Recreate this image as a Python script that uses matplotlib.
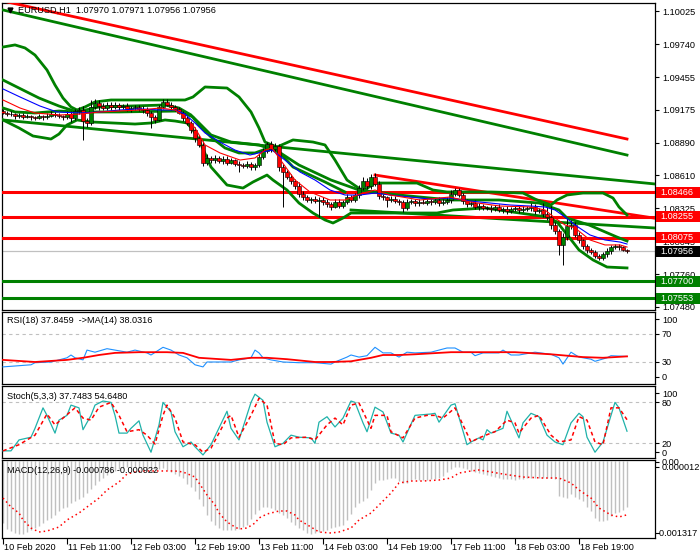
import matplotlib
matplotlib.use("Agg")
import matplotlib.pyplot as plt
import matplotlib.transforms as mtransforms
from matplotlib.patches import Rectangle
from matplotlib.lines import Line2D
import numpy as np

plt.rcParams['font.family'] = ['Liberation Sans', 'DejaVu Sans']
FS = 6.6

title_text = "EURUSD,H1  1.07970 1.07971 1.07956 1.07956"
rsi_title = "RSI(18) 37.8459  ->MA(14) 38.0316"
stoch_title = "Stoch(5,3,3) 37.7483 54.6480"
macd_title = "MACD(12,26,9) -0.000786 -0.000922"

first_open = 1.09160
closes = [
    1.09150, 1.09140, 1.09135, 1.09120, 1.09128, 1.09115, 1.09120, 1.09110, 1.09105, 1.09118,
    1.09110, 1.09125, 1.09140, 1.09130, 1.09120, 1.09110, 1.09135, 1.09100, 1.09160, 1.09175,
    1.09080, 1.09060, 1.09200, 1.09230, 1.09210, 1.09190, 1.09220, 1.09200, 1.09215, 1.09195,
    1.09205, 1.09180, 1.09190, 1.09200, 1.09185, 1.09170, 1.09150, 1.09110, 1.09090, 1.09200,
    1.09240, 1.09220, 1.09200, 1.09180, 1.09150, 1.09100, 1.09060, 1.09000, 1.08930, 1.08870,
    1.08720, 1.08760, 1.08740, 1.08760, 1.08730, 1.08750, 1.08720, 1.08740, 1.08710, 1.08700,
    1.08690, 1.08710, 1.08680, 1.08700, 1.08770, 1.08820, 1.08880, 1.08840, 1.08860, 1.08680,
    1.08640, 1.08600, 1.08560, 1.08520, 1.08450, 1.08420, 1.08400, 1.08410, 1.08390, 1.08400,
    1.08380, 1.08360, 1.08340, 1.08380, 1.08350, 1.08380, 1.08420, 1.08400, 1.08440, 1.08500,
    1.08560, 1.08520, 1.08600, 1.08540, 1.08430, 1.08420, 1.08400, 1.08410, 1.08390, 1.08380,
    1.08330, 1.08380, 1.08390, 1.08370, 1.08385, 1.08375, 1.08390, 1.08380, 1.08395, 1.08370,
    1.08385, 1.08400, 1.08450, 1.08480, 1.08440, 1.08390, 1.08360, 1.08370, 1.08340, 1.08350,
    1.08330, 1.08330, 1.08320, 1.08340, 1.08310, 1.08320, 1.08300, 1.08320, 1.08330, 1.08310,
    1.08320, 1.08330, 1.08340, 1.08300, 1.08310, 1.08280, 1.08250, 1.08180, 1.08130, 1.08010,
    1.08080, 1.08170, 1.08180, 1.08100, 1.08050, 1.08000, 1.07970, 1.07950, 1.07920, 1.07900,
    1.07930, 1.07960, 1.07990, 1.08000, 1.07990, 1.07970, 1.07956]
wick_hi_pts = [
    20, 15, 25, 10, 20, 15, 20, 10, 15, 20,
    10, 25, 20, 15, 15, 10, 25, 30, 20, 25,
    35, 20, 60, 40, 25, 20, 25, 20, 30, 15,
    20, 25, 15, 20, 15, 20, 25, 15, 20, 20,
    30, 25, 20, 15, 20, 15, 25, 20, 30, 25,
    40, 35, 20, 25, 20, 30, 25, 20, 15, 20,
    20, 25, 15, 20, 30, 25, 20, 30, 25, 20,
    30, 20, 25, 20, 30, 25, 20, 15, 20, 25,
    20, 25, 20, 30, 25, 20, 30, 25, 20, 30,
    40, 30, 20, 30, 25, 20, 15, 20, 25, 20,
    20, 25, 20, 15, 20, 25, 20, 15, 20, 25,
    20, 25, 30, 25, 20, 20, 15, 20, 25, 20,
    15, 20, 25, 15, 20, 15, 25, 20, 15, 20,
    25, 20, 30, 25, 20, 60, 60, 100, 25, 20,
    30, 70, 50, 25, 20, 15, 20, 15, 20, 15,
    20, 25, 20, 15, 20, 15, 10]
wick_lo_pts = [
    15, 20, 10, 25, 15, 20, 10, 20, 15, 10,
    20, 15, 10, 20, 15, 25, 15, 30, 15, 20,
    166, 30, 20, 15, 40, 20, 15, 25, 15, 20,
    15, 20, 25, 15, 20, 20, 25, 90, 30, 15,
    20, 15, 25, 20, 15, 25, 20, 25, 30, 20,
    30, 20, 25, 20, 15, 25, 20, 15, 20, 60,
    20, 15, 20, 25, 15, 20, 15, 25, 20, 30,
    300, 25, 20, 30, 25, 20, 15, 25, 20, 140,
    25, 20, 30, 15, 20, 25, 20, 15, 20, 25,
    20, 30, 25, 20, 25, 20, 60, 15, 20, 25,
    35, 20, 15, 25, 20, 15, 20, 25, 15, 20,
    15, 20, 25, 20, 15, 25, 20, 15, 20, 25,
    20, 15, 25, 20, 15, 20, 25, 15, 20, 20,
    15, 20, 25, 20, 15, 25, 20, 30, 25, 85,
    170, 30, 25, 20, 25, 20, 30, 20, 25, 20,
    15, 20, 25, 15, 20, 15, 10]

date_labels = ["10 Feb 2020", "11 Feb 11:00", "12 Feb 03:00", "12 Feb 19:00", "13 Feb 11:00",
               "14 Feb 03:00", "14 Feb 19:00", "17 Feb 11:00", "18 Feb 03:00", "18 Feb 19:00"]
date_label_bars = [0, 16, 32, 48, 64, 80, 96, 112, 128, 144]

price_ticks = [1.10025, 1.09740, 1.09455, 1.09175, 1.08890, 1.08610, 1.08325, 1.08045, 1.07760, 1.07480]
resist_levels = [1.08466, 1.08255, 1.08075]
support_levels = [1.07700, 1.07553]
last_price = 1.07956

# long lines (bar index, price)
long_red_bars = [0, 156]
long_red = [1.10111, 1.08923]
long_green_bars = [0, 156]
long_green = [1.10034, 1.08785]
chan_green_bars = [0, 163]
chan_green = [1.09087, 1.08536]
chan_green2_bars = [87, 163]
chan_green2 = [1.08312, 1.08157]
trend_red_bars = [93, 163]
trend_red = [1.08613, 1.08241]

# Bollinger-type envelopes
bb_up_bars = [0, 3, 5.5, 8, 11, 13, 15, 17, 18.5, 20.5, 23, 27, 37, 45.5, 47.5, 50.5, 56, 59, 62, 64, 65.5,
              68.5, 72.5, 77.5, 80.5, 83, 86, 90, 93, 103.5, 107.5, 111, 122, 130, 133.5, 137, 138.5,
              141, 145, 150, 152.5, 154, 156]
bb_up = [1.09715, 1.09733, 1.09707, 1.09646, 1.09517, 1.09388, 1.09276, 1.09199, 1.09173, 1.09199,
         1.09242, 1.09259, 1.09259, 1.09259, 1.09285, 1.09371, 1.09362, 1.09285, 1.09156, 1.09018,
         1.08897, 1.08854, 1.08915, 1.08897, 1.08872, 1.08742, 1.08570, 1.08475, 1.08544, 1.08544,
         1.08484, 1.08467, 1.08467, 1.08458, 1.08398, 1.08355, 1.08398, 1.08441, 1.08458, 1.08458,
         1.08415, 1.08338, 1.08269]
bb_mid_bars = [0, 4, 9, 14, 18.5, 29, 44, 47.5, 52, 57, 64, 69, 74, 82, 89, 99, 112, 124, 134, 139,
               141, 146.5, 153.5, 156]
bb_mid = [1.09431, 1.09362, 1.09276, 1.09207, 1.09156, 1.09156, 1.09164, 1.09113, 1.08958, 1.08897,
          1.08872, 1.08811, 1.08699, 1.08570, 1.08484, 1.08441, 1.08398, 1.08398, 1.08372, 1.08312,
          1.08243, 1.08183, 1.08079, 1.08045]
bb_lo_bars = [0, 4, 7.5, 12, 14, 16, 18.5, 22, 33, 37, 40.5, 43, 46, 47.5, 49, 52, 56, 60, 62.5, 66,
              67.5, 71, 74, 77.5, 80.5, 82.5, 85, 87, 92, 108.5, 112.5, 120.5, 136, 138.5, 141.5,
              144, 147.5, 151, 156]
bb_lo = [1.09087, 1.09018, 1.08949, 1.08923, 1.08966, 1.09044, 1.09087, 1.09070, 1.09052, 1.09061,
         1.09087, 1.09078, 1.09061, 1.09001, 1.08915, 1.08682, 1.08527, 1.08501, 1.08553, 1.08613,
         1.08570, 1.08484, 1.08372, 1.08286, 1.08226, 1.08200, 1.08243, 1.08286, 1.08286, 1.08286,
         1.08312, 1.08329, 1.08252, 1.08209, 1.08079, 1.07968, 1.07882, 1.07821, 1.07813]
bb2_up_bars = [0, 3, 8, 14, 18.5, 24, 40.5, 44, 47, 49, 52, 55.5, 59, 63, 65, 67, 69, 72.5, 80.5, 85.5]
bb2_up = [1.09190, 1.09156, 1.09147, 1.09164, 1.09156, 1.09199, 1.09216, 1.09190, 1.09130, 1.09044,
          1.08940, 1.08846, 1.08803, 1.08803, 1.08828, 1.08846, 1.08811, 1.08682, 1.08553, 1.08467]

# moving averages
ma_slow_bars = [0, 4.25, 9.25, 13.5, 19.25, 24.25, 29.25, 34.25, 39.25, 43, 45.5, 48, 50.5, 54.25, 58,
                61.75, 64.75, 67.25, 70.5, 74.25, 78, 81.75, 85.5, 89.25, 93, 96.75, 101.75, 106.75,
                111.75, 116.75, 121.75, 126.75, 131.75, 135.5, 138, 140.5, 143, 146.75, 150.5, 154.25, 156]
ma_slow = [1.09354, 1.09285, 1.09207, 1.09156, 1.09147, 1.09156, 1.09173, 1.09182, 1.09173, 1.09173,
           1.09138, 1.09061, 1.08975, 1.08897, 1.08828, 1.08785, 1.08811, 1.08828, 1.08742, 1.08639,
           1.08570, 1.08484, 1.08441, 1.08441, 1.08458, 1.08441, 1.08424, 1.08407, 1.08415, 1.08389,
           1.08372, 1.08355, 1.08346, 1.08338, 1.08312, 1.08252, 1.08183, 1.08097, 1.08054, 1.08036,
           1.08019]
ma_fast_bars = [0, 4.25, 8, 14.25, 19.25, 24.25, 34.25, 39.25, 43, 45.5, 48, 50.5, 54.25, 59.25, 63,
                65.5, 67.25, 69.75, 73, 76.75, 81.75, 85.5, 89.25, 93, 96.75, 104.25, 111.75, 116.75,
                124.25, 131.75, 135.5, 138, 140.5, 143, 146.75, 150.5, 154.25, 156]
ma_fast = [1.09259, 1.09190, 1.09147, 1.09130, 1.09138, 1.09156, 1.09173, 1.09190, 1.09173, 1.09113,
           1.09018, 1.08872, 1.08803, 1.08742, 1.08760, 1.08828, 1.08846, 1.08725, 1.08570, 1.08467,
           1.08398, 1.08398, 1.08450, 1.08484, 1.08441, 1.08398, 1.08424, 1.08381, 1.08346, 1.08338,
           1.08312, 1.08243, 1.08183, 1.08157, 1.08054, 1.08011, 1.08011, 1.07993]

# RSI
rsi_bars = [0, 7, 8, 12, 14, 16, 17, 18, 20, 21, 23, 26, 28, 31, 33, 36, 37, 40, 42, 44, 46, 48, 50, 51,
            53, 57, 59, 62, 63, 64, 65, 67, 70, 74, 78, 82, 83, 86, 87, 89, 91, 93, 95, 97, 99, 101,
            103, 107, 111, 113, 115, 117, 118, 120, 124, 125, 127, 129, 133, 137, 139, 140, 142, 144,
            147, 148, 151, 152, 156]
rsi_vals = [23, 26, 29, 30, 33, 36, 40, 36, 33, 47, 44, 49, 47, 44, 47, 43, 40, 51, 47, 40, 36, 26, 23,
            30, 30, 30, 33, 36, 47, 43, 36, 33, 30, 29, 29, 27, 30, 37, 40, 37, 39, 51, 43, 43, 37, 44,
            43, 44, 50, 50, 44, 44, 39, 43, 43, 47, 40, 40, 44, 41, 36, 27, 44, 37, 34, 31, 36, 39, 37.85]
rsi_ma_bars = [0, 8, 16, 20, 24, 28, 34, 41, 45, 49, 57, 62, 66, 71, 78, 82, 87, 92, 95, 99, 103, 112,
               120, 128, 137, 141, 145, 150, 153, 156]
rsi_ma = [33, 30, 33, 36, 40, 43, 44, 44, 43, 36, 33, 36, 36, 34, 30, 30, 31, 36, 40, 40, 41, 44, 44,
          44, 41, 39, 37, 36, 37, 38.03]

# Stochastic
st_bars = [0, 2, 4, 7, 8, 10, 11, 13, 14, 16, 17, 19, 20, 22, 23, 25, 27, 28, 29, 31, 32, 34, 35, 37,
           39, 40, 42, 43, 45, 47, 48, 50, 52, 56, 57, 59, 62, 63, 65, 66, 68, 70, 72, 74, 77, 78, 79,
           81, 83, 85, 87, 88, 90, 91, 93, 95, 97, 99, 100, 103, 107, 108, 109, 112, 113, 116, 117,
           119, 120, 121, 122, 125, 126, 127, 129, 130, 132, 134, 136, 138, 140, 142, 144, 145, 146,
           148, 150, 152, 153, 154, 156]
st_main = [9, 9, 25, 29, 42, 72, 61, 35, 54, 61, 76, 72, 40, 61, 76, 82, 80, 61, 35, 35, 42, 53, 32, 7,
           47, 80, 66, 37, 15, 22, 15, 3, 18, 67, 42, 25, 80, 92, 83, 51, 15, 20, 32, 29, 28, 20, 51,
           59, 44, 57, 82, 80, 50, 37, 73, 66, 35, 32, 22, 61, 63, 64, 51, 76, 78, 18, 22, 28, 25, 40,
           35, 42, 67, 54, 28, 50, 64, 59, 32, 22, 18, 50, 64, 59, 29, 7, 22, 61, 80, 72, 37.75]
sig_bars = [0, 4, 8, 11, 13, 15, 18, 20, 22, 24, 27, 29, 31, 34, 36, 38, 40, 41, 43, 45, 48, 50, 52, 56,
            57, 59, 62, 64, 66, 68, 70, 72, 76, 78, 81, 83, 85, 87, 89, 92, 93, 96, 97, 100, 103, 106,
            108, 110, 113, 117, 119, 122, 123, 126, 128, 129, 132, 134, 137, 139, 142, 144, 146, 148,
            150, 152, 154, 156]
st_signal = [9, 18, 32, 63, 47, 57, 72, 57, 54, 73, 80, 61, 37, 40, 32, 19, 61, 76, 57, 22, 18, 7, 13,
             57, 61, 29, 61, 86, 76, 20, 18, 28, 29, 25, 47, 57, 47, 76, 79, 42, 61, 61, 37, 28, 57, 61,
             61, 57, 72, 22, 28, 35, 37, 54, 50, 35, 57, 61, 32, 22, 25, 59, 54, 22, 18, 72, 72, 54.65]

# MACD (millionths)
macd_hist_e6 = [
    -1062, -1164, -1198, -1232, -1249, -1249, -1215, -1181, -1147, -1113,
    -1062, -1010, -976, -925, -857, -806, -789, -721, -687, -653,
    -618, -550, -482, -414, -346, -295, -244, -210, -175, -141,
    -124, -107, -107, -107, -124, -124, -158, -192, -175, -141,
    -124, -158, -192, -227, -261, -295, -397, -448, -516, -653,
    -772, -925, -1027, -1096, -1147, -1181, -1181, -1181, -1181, -1164,
    -1130, -1096, -993, -908, -840, -789, -789, -806, -840, -891,
    -925, -976, -1044, -1096, -1147, -1181, -1232, -1249, -1232, -1215,
    -1198, -1181, -1147, -1130, -1113, -1096, -1010, -900, -790, -720,
    -690, -640, -500, -380, -329, -329, -312, -295, -295, -346,
    -380, -380, -329, -312, -329, -329, -329, -312, -312, -295,
    -261, -192, -141, -107, -107, -124, -141, -175, -192, -210,
    -227, -244, -261, -278, -295, -312, -312, -312, -329, -312,
    -312, -295, -295, -295, -295, -295, -295, -295, -312, -601,
    -618, -636, -567, -618, -653, -687, -789, -857, -976, -1027,
    -1027, -1010, -942, -891, -874, -840, -786]
macd_sig_bars = [0, 2, 4, 5, 7, 9, 11, 14, 16, 19, 21, 24, 26, 29, 31, 33, 35, 39, 43, 45, 48, 49, 51,
                 53, 54, 56, 58, 59, 61, 63, 64, 66, 69, 71, 73, 74, 77, 79, 82, 84, 87, 89, 92, 94, 97,
                 99, 102, 105, 109, 112, 114, 117, 119, 122, 125, 130, 135, 139, 142, 144, 147, 149,
                 152, 154, 156]
macd_sig_e6 = [-636, -789, -891, -1010, -1147, -1215, -1198, -1130, -1010, -891, -789, -636, -499, -363,
               -227, -192, -175, -175, -175, -192, -278, -380, -584, -755, -891, -1044, -1130, -1164,
               -1147, -1062, -976, -908, -857, -857, -925, -1010, -1130, -1215, -1232, -1215, -1147,
               -1010, -891, -755, -550, -380, -346, -346, -329, -295, -210, -175, -158, -192, -227,
               -278, -295, -295, -380, -499, -636, -806, -925, -959, -922]

# ---------------------------------------------------------------
W, H = 700, 560
fig = plt.figure(figsize=(7, 5.6), dpi=100)


def add_panel(top, bottom):
    return fig.add_axes([2 / W, 1 - bottom / H, 653 / W, (bottom - top) / H])


ax = add_panel(3, 310)
ax_rsi = add_panel(312, 384)
ax_st = add_panel(386, 458)
ax_macd = add_panel(460, 538)

XL = (-0.25, 163)
for a in (ax, ax_rsi, ax_st, ax_macd):
    a.set_xlim(*XL)
    a.set_xticks([])
    a.yaxis.tick_right()
    a.tick_params(axis='y', length=3, width=0.8, labelsize=FS, pad=2, colors='black')
    for s in a.spines.values():
        s.set_linewidth(0.9)
        s.set_color('black')

GREEN = '#008000'
RED = '#FF0000'

# ---------------- main panel ----------------
ax.set_ylim(1.07451, 1.10094)
ax.set_yticks(price_ticks)
ax.set_yticklabels([f"{v:.5f}" for v in price_ticks])

ax.plot(long_red_bars, long_red, color=RED, lw=2.0, zorder=3)
ax.plot(long_green_bars, long_green, color=GREEN, lw=2.0, zorder=3)
ax.plot(chan_green_bars, chan_green, color=GREEN, lw=2.0, zorder=3)
ax.plot(chan_green2_bars, chan_green2, color=GREEN, lw=2.0, zorder=3)
ax.plot(trend_red_bars, trend_red, color=RED, lw=2.0, zorder=3)

for lv in resist_levels:
    ax.axhline(lv, color=RED, lw=2.2, zorder=3)
for lv in support_levels:
    ax.axhline(lv, color=GREEN, lw=2.2, zorder=3)
ax.axhline(last_price, color='#C0C0C0', lw=0.9, zorder=2)

ax.plot(bb_up_bars, bb_up, color=GREEN, lw=2.0, zorder=4)
ax.plot(bb_mid_bars, bb_mid, color=GREEN, lw=2.0, zorder=4)
ax.plot(bb_lo_bars, bb_lo, color=GREEN, lw=2.0, zorder=4)
ax.plot(bb2_up_bars, bb2_up, color=GREEN, lw=2.0, zorder=4)

# candles
opens = [first_open] + closes[:-1]
for i, (o, c) in enumerate(zip(opens, closes)):
    hi = max(o, c) + wick_hi_pts[i] * 1e-5
    lo = min(o, c) - wick_lo_pts[i] * 1e-5
    ax.vlines(i, lo, hi, color='black', lw=0.7, zorder=5)
    body = abs(c - o)
    col = GREEN if c >= o else RED
    if body < 0.00003:
        ax.hlines((o + c) / 2, i - 0.4, i + 0.4, color='black', lw=0.9, zorder=6)
    else:
        ax.add_patch(Rectangle((i - 0.38, min(o, c)), 0.76, body, facecolor=col,
                               edgecolor='black', lw=0.4, zorder=6))

ax.plot(ma_slow_bars, ma_slow, color='#0000FF', lw=0.8, zorder=7)
ax.plot(ma_fast_bars, ma_fast, color=RED, lw=0.8, zorder=7)

# right-side level boxes
btr = mtransforms.blended_transform_factory(ax.transAxes, ax.transData)
box_h = 0.00095
for lv, fc in [(1.08466, RED), (1.08255, RED), (1.08075, RED), (last_price, 'black'),
               (1.07700, GREEN), (1.07553, GREEN)]:
    ax.add_patch(Rectangle((1.0015, lv - box_h / 2), 0.072, box_h, transform=btr,
                           facecolor=fc, edgecolor='none', clip_on=False, zorder=20))
    ax.text(1.0075, lv, f"{lv:.5f}", transform=btr, color='white', fontsize=FS,
            va='center', ha='left', zorder=21, clip_on=False)

fig.text(18 / W, 1 - 10 / H, title_text, fontsize=FS, va='center', ha='left')
fig.add_artist(Line2D([9.5 / W], [1 - 10 / H], marker='v', markersize=3.5, color='black',
                      transform=fig.transFigure))

# ---------------- RSI ----------------
ax_rsi.set_ylim(-1.43, 101.4)
for lv in (70, 30):
    ax_rsi.axhline(lv, color='#C0C0C0', lw=0.8, ls=(0, (3, 3)))
ax_rsi.plot(rsi_bars, rsi_vals, color='#1E90FF', lw=0.8, zorder=3)
ax_rsi.plot(rsi_ma_bars, rsi_ma, color=RED, lw=1.3, zorder=4)
ax_rsi.set_yticks([91.4, 70, 30, 8.6])
ax_rsi.set_yticklabels(['100', '70', '30', '0'])
ax_rsi.text(5 / 653, (383 - 321) / 0.7, rsi_title, transform=mtransforms.blended_transform_factory(
    ax_rsi.transAxes, ax_rsi.transData), fontsize=FS, va='center', ha='left')

# ---------------- Stochastic ----------------
ax_st.set_ylim(-1.46, 104)
for lv in (80, 20):
    ax_st.axhline(lv, color='#C0C0C0', lw=0.8, ls=(0, (3, 3)))
ax_st.plot(st_bars, st_main, color='#20B2AA', lw=0.9, zorder=3)
ax_st.plot(sig_bars, st_signal, color=RED, lw=1.1, ls=(0, (2.5, 2)), zorder=4)
ax_st.set_yticks([93.7, 80, 20, 7.3])
ax_st.set_yticklabels(['100', '80', '20', '0'])
ax_st.text(5 / 653, (457 - 396) / 0.683, stoch_title, transform=mtransforms.blended_transform_factory(
    ax_st.transAxes, ax_st.transData), fontsize=FS, va='center', ha='left')

# ---------------- MACD ----------------
ax_macd.set_ylim(-0.001317, 0.000012)
hist = np.array(macd_hist_e6) * 1e-6
ax_macd.vlines(np.arange(len(hist)), 0, hist, color='#C0C0C0', lw=1.0, zorder=2)
ax_macd.plot(macd_sig_bars, np.array(macd_sig_e6) * 1e-6, color=RED, lw=1.1,
             ls=(0, (1, 2)), zorder=3)
ax_macd.set_yticks([-0.000022, -0.000107, -0.001232])
ax_macd.set_yticklabels(['0.00', '0.000012', ''])
bmy = mtransforms.blended_transform_factory(ax_macd.transAxes, ax_macd.transData)
ax_macd.text(1.003, -0.001232, '-0.001317', transform=bmy, fontsize=FS, va='center', ha='left',
             clip_on=False)
ax_macd.text(5 / 653, 12e-6 - 10 * 17.04e-6, macd_title, transform=bmy,
             fontsize=FS, va='center', ha='left', zorder=5)

# date axis
ax_macd.set_xticks(date_label_bars)
ax_macd.tick_params(axis='x', length=4, width=0.8, direction='out', labelbottom=False)
btx = mtransforms.blended_transform_factory(ax_macd.transData, ax_macd.transAxes)
for b, lab in zip(date_label_bars, date_labels):
    ax_macd.text(b + 0.15, -10 / 78, lab, transform=btx, fontsize=FS, va='center', ha='left',
                 clip_on=False)

fig.savefig("out.png", dpi=100, facecolor='white')
